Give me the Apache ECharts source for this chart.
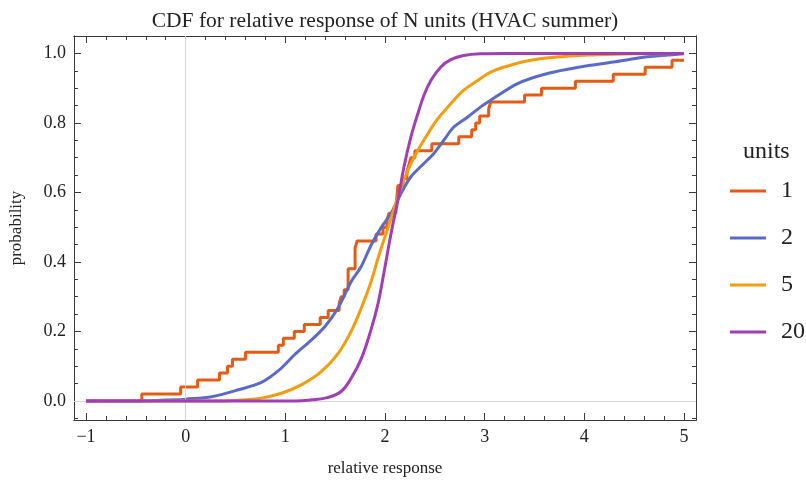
<!DOCTYPE html>
<html>
<head>
<meta charset="utf-8">
<script src="https://cdn.jsdelivr.net/npm/echarts@6/dist/echarts.min.js"></script>
<style>
html,body{margin:0;padding:0;background:#fff;}
#chart{width:806px;height:482px;}
</style>
</head>
<body>
<div id="chart"></div>
<script>
// ---- data ----
const seriesNames = ['1', '2', '5', '20'];

// N = 1 : empirical CDF, jump positions and the level after each jump
const oneX = [-1, -0.44, -0.05, 0.12, 0.34, 0.42, 0.47, 0.60, 0.93, 0.98, 1.09, 1.19, 1.35, 1.43, 1.54, 1.56, 1.59, 1.63, 1.70, 1.72, 1.91, 1.98, 2.02, 2.04, 2.11, 2.13, 2.18, 2.22, 2.24, 2.26, 2.30, 2.47, 2.74, 2.87, 2.91, 2.95, 3.04, 3.06, 3.40, 3.57, 3.91, 4.29, 4.61, 4.88, 5.0];
const oneY = [0, 0.02, 0.04, 0.06, 0.08, 0.10, 0.12, 0.14, 0.16, 0.18, 0.20, 0.22, 0.24, 0.26, 0.28, 0.30, 0.32, 0.38, 0.44, 0.46, 0.48, 0.50, 0.52, 0.54, 0.56, 0.62, 0.64, 0.66, 0.68, 0.70, 0.72, 0.74, 0.76, 0.78, 0.80, 0.82, 0.84, 0.86, 0.88, 0.90, 0.92, 0.94, 0.96, 0.98, 0.98];

// N = 2
const twoX = [-1, -0.5, -0.3, -0.1, 0, 0.26, 0.53, 0.76, 0.94, 1.09, 1.26, 1.40, 1.53, 1.66, 1.76, 1.86, 1.96, 2.06, 2.16, 2.26, 2.39, 2.49, 2.59, 2.69, 2.83, 2.96, 3.06, 3.33, 3.63, 3.96, 4.29, 4.63, 5.0];
const twoY = [0, 0, 0.001, 0.003, 0.005, 0.012, 0.032, 0.053, 0.089, 0.132, 0.175, 0.215, 0.268, 0.343, 0.386, 0.448, 0.498, 0.539, 0.597, 0.645, 0.683, 0.712, 0.750, 0.788, 0.817, 0.846, 0.865, 0.913, 0.942, 0.961, 0.975, 0.990, 0.999];

// N = 5
const fiveX = [-1, 0.4, 0.6, 0.76, 0.96, 1.16, 1.36, 1.53, 1.66, 1.76, 1.86, 1.94, 2.03, 2.13, 2.23, 2.33, 2.43, 2.53, 2.66, 2.79, 2.93, 3.06, 3.20, 3.46, 3.79, 4.13, 4.50, 5.0];
const fiveY = [0, 0, 0.003, 0.008, 0.022, 0.046, 0.084, 0.137, 0.200, 0.266, 0.343, 0.420, 0.498, 0.587, 0.664, 0.721, 0.769, 0.812, 0.855, 0.894, 0.922, 0.946, 0.961, 0.980, 0.991, 0.996, 0.999, 1.0];

// N = 20
const twentyX = [-1, 1.1, 1.26, 1.43, 1.56, 1.66, 1.76, 1.86, 1.93, 1.99, 2.04, 2.08, 2.13, 2.19, 2.26, 2.33, 2.39, 2.46, 2.56, 2.66, 2.79, 2.96, 3.2, 5.0];
const twentyY = [0, 0, 0.003, 0.010, 0.027, 0.065, 0.120, 0.205, 0.280, 0.370, 0.450, 0.510, 0.578, 0.673, 0.760, 0.827, 0.879, 0.922, 0.961, 0.982, 0.994, 0.999, 1.0, 1.0];

// ticks
const xMajorTicks = [-1, 0, 1, 2, 3, 4, 5];
const xMinorTicks = [-0.8, -0.6, -0.4, -0.2, 0.2, 0.4, 0.6, 0.8, 1.2, 1.4, 1.6, 1.8, 2.2, 2.4, 2.6, 2.8, 3.2, 3.4, 3.6, 3.8, 4.2, 4.4, 4.6, 4.8];
const yMajorTicks = [0, 0.2, 0.4, 0.6, 0.8, 1.0];
const yMinorTicks = [-0.05, 0.05, 0.1, 0.15, 0.25, 0.3, 0.35, 0.45, 0.5, 0.55, 0.65, 0.7, 0.75, 0.85, 0.9, 0.95];

const colors = ['#E65B14', '#5A6AC9', '#F29C0E', '#A13DB5'];

const pairs = (xs, ys) => xs.map((x, i) => [x, ys[i]]);

const FONT = '"Liberation Serif", "DejaVu Serif", serif';
const frameColor = '#3a3a3a';
const X_MIN = -1.12, X_MAX = 5.12, Y_MIN = -0.055, Y_MAX = 1.05;

function xAx(pos, vals, len, labels) {
  return {
    type: 'value', position: pos, min: X_MIN, max: X_MAX,
    axisLine: { show: true, onZero: false, lineStyle: { color: frameColor, width: 1 } },
    axisTick: { show: true, inside: true, length: len, customValues: vals, lineStyle: { color: frameColor } },
    axisLabel: labels ? {
      show: true, customValues: vals, margin: 8, color: '#222', fontFamily: FONT, fontSize: 18,
      formatter: v => (v < 0 ? '\u2212' + Math.abs(v) : String(v))
    } : { show: false },
    splitLine: { show: false }
  };
}
function yAx(pos, vals, len, labels) {
  return {
    type: 'value', position: pos, min: Y_MIN, max: Y_MAX,
    axisLine: { show: true, onZero: false, lineStyle: { color: frameColor, width: 1 } },
    axisTick: { show: true, inside: true, length: len, customValues: vals, lineStyle: { color: frameColor } },
    axisLabel: labels ? {
      show: true, customValues: vals, margin: 8, color: '#222', fontFamily: FONT, fontSize: 18,
      formatter: v => v.toFixed(1)
    } : { show: false },
    splitLine: { show: false }
  };
}

const xAxes = [
  xAx('bottom', xMajorTicks, 7, true),
  xAx('bottom', xMinorTicks, 4, false),
  xAx('top', xMajorTicks, 7, false),
  xAx('top', xMinorTicks, 4, false)
];
Object.assign(xAxes[0], {
  name: 'relative response', nameLocation: 'middle', nameGap: 40,
  nameTextStyle: { fontFamily: FONT, fontSize: 17, color: '#222' }
});
const yAxes = [
  yAx('left', yMajorTicks, 7, true),
  yAx('left', yMinorTicks, 4, false),
  yAx('right', yMajorTicks, 7, false),
  yAx('right', yMinorTicks, 4, false)
];
Object.assign(yAxes[0], {
  name: 'probability', nameLocation: 'middle', nameGap: 49,
  nameTextStyle: { fontFamily: FONT, fontSize: 17, color: '#222' }
});

const chart = echarts.init(document.getElementById('chart'), null, { renderer: 'canvas' });
chart.setOption({
  animation: false,
  title: {
    text: 'CDF for relative response of N units (HVAC summer)',
    left: 380, top: 5, textAlign: 'center',
    textStyle: { fontFamily: FONT, fontSize: 21.5, fontWeight: 'normal', color: '#222' }
  },
  grid: { left: 74, right: 110, top: 36, bottom: 62, containLabel: false, outerBoundsMode: 'none' },
  xAxis: xAxes,
  yAxis: yAxes,
  legend: {
    orient: 'vertical', left: 730, top: 179, padding: 0,
    itemWidth: 36, itemHeight: 3, itemGap: 23,
    icon: 'rect',
    textStyle: { fontFamily: FONT, fontSize: 24, color: '#222', lineHeight: 24, padding: [0, 0, 0, 10] },
    data: seriesNames
  },
  graphic: [{
    type: 'text', left: 743, top: 140,
    style: { text: 'units', fontFamily: FONT, fontSize: 24, fill: '#222' }
  }],
  series: [
    {
      name: seriesNames[0], type: 'line', step: 'end', showSymbol: false,
      data: pairs(oneX, oneY), color: colors[0],
      lineStyle: { width: 3, color: colors[0] },
      markLine: {
        silent: true, symbol: 'none', label: { show: false },
        lineStyle: { color: '#d6d6d6', width: 1, type: 'solid' },
        data: [{ xAxis: 0 }, { yAxis: 0 }]
      },
      z: 3
    },
    {
      name: seriesNames[1], type: 'line', showSymbol: false, smooth: 0.3,
      data: pairs(twoX, twoY), color: colors[1],
      lineStyle: { width: 3, color: colors[1] }, z: 4
    },
    {
      name: seriesNames[2], type: 'line', showSymbol: false, smooth: 0.4,
      data: pairs(fiveX, fiveY), color: colors[2],
      lineStyle: { width: 3, color: colors[2] }, z: 5
    },
    {
      name: seriesNames[3], type: 'line', showSymbol: false, smooth: 0.4,
      data: pairs(twentyX, twentyY), color: colors[3],
      lineStyle: { width: 3, color: colors[3] }, z: 6
    }
  ]
});
</script>
</body>
</html>
